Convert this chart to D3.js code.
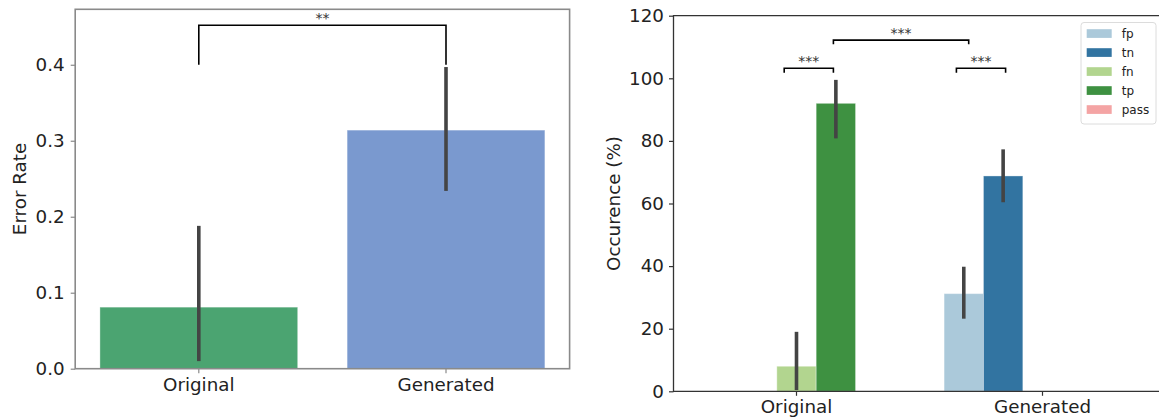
<!DOCTYPE html>
<html>
<head>
<meta charset="utf-8">
<script src="https://cdn.jsdelivr.net/npm/d3@7"></script>
<style>
  html, body { margin: 0; padding: 0; background: #fff; }
  svg { display: block; }
  text { font-family: "DejaVu Sans", sans-serif; }
</style>
</head>
<body>
<svg id="chart" width="1159" height="420"></svg>
<script>
// ---------- data ----------
const categories = ["Original", "Generated"];

// left panel: error rate
const errorRate = [0.081, 0.314];
const errorLow = [0.010, 0.234];
const errorHigh = [0.188, 0.397];
const leftColors = ["#4ba471", "#7a99cf"];
const leftTicks = [0.0, 0.1, 0.2, 0.3, 0.4];
const leftBracket = { from: "Original", to: "Generated", legLow: 0.4, top: 0.452, label: "**" };

// right panel: occurrence by outcome type
const hues = ["fp", "tn", "fn", "tp", "pass"];
const hueColors = ["#abc9da", "#3274a1", "#b2d58f", "#3e9141", "#f4a4a4"];
// values per hue: [Original, Generated]; null = no bar
const occFp = [null, 31.2];
const occTn = [null, 68.8];
const occFn = [8.0, null];
const occTp = [92.0, null];
const occPass = [null, null];
const ciFp = [null, [23.2, 39.8]];
const ciTn = [null, [60.4, 77.3]];
const ciFn = [[0.4, 19.0], null];
const ciTp = [[80.8, 99.5], null];
const ciPass = [null, null];
const rightTicks = [0, 20, 40, 60, 80, 100, 120];
// brackets: category index + offset (in category units), leg bottom, height
const rightBrackets = [
  { c1: 0, o1: -0.05, c2: 0, o2: 0.15, y: 101.8, h: 1.4, label: "***" },
  { c1: 1, o1: -0.35, c2: 1, o2: -0.15, y: 101.8, h: 1.4, label: "***" },
  { c1: 0, o1: 0.15, c2: 1, o2: -0.30, y: 110.9, h: 1.3, label: "***" }
];

const occValues = [occFp, occTn, occFn, occTp, occPass];
const occCI = [ciFp, ciTn, ciFn, ciTp, ciPass];

// ---------- drawing ----------
const svg = d3.select("#chart");
const tickFont = "18.3px";
const textColor = "#222";

// ===== Left panel =====
const L = { left: 75.2, right: 569.6, top: 9.3, bottom: 368.7 };
const xL = d3.scaleBand(categories, [L.left, L.right]).paddingInner(0.2).paddingOuter(0.1);
const yL = d3.scaleLinear([0, 0.473], [L.bottom, L.top]);
const gL = svg.append("g");

gL.selectAll("rect.bar").data(categories).join("rect")
  .attr("x", d => xL(d)).attr("width", xL.bandwidth())
  .attr("y", (d, i) => yL(errorRate[i]))
  .attr("height", (d, i) => yL(0) - yL(errorRate[i]))
  .attr("fill", (d, i) => leftColors[i])
  .attr("stroke", "rgba(255,255,255,0.35)").attr("stroke-width", 1);

gL.selectAll("line.err").data(categories).join("line")
  .attr("x1", d => xL(d) + xL.bandwidth() / 2).attr("x2", d => xL(d) + xL.bandwidth() / 2)
  .attr("y1", (d, i) => yL(errorLow[i])).attr("y2", (d, i) => yL(errorHigh[i]))
  .attr("stroke", "#444").attr("stroke-width", 3.6);

// frame
gL.append("rect").attr("x", L.left).attr("y", L.top)
  .attr("width", L.right - L.left).attr("height", L.bottom - L.top)
  .attr("fill", "none").attr("stroke", "#8a8a8a").attr("stroke-width", 1.6);

const axLy = gL.append("g").attr("transform", `translate(${L.left},0)`)
  .call(d3.axisLeft(yL).tickValues(leftTicks).tickFormat(d3.format(".1f")).tickSize(4.5).tickPadding(6));
const axLx = gL.append("g").attr("transform", `translate(0,${L.bottom})`)
  .call(d3.axisBottom(xL).tickSize(4.5).tickPadding(5));
[axLy, axLx].forEach(a => {
  a.select(".domain").remove();
  a.selectAll(".tick line").attr("stroke", "#8a8a8a").attr("stroke-width", 1.2);
  a.selectAll(".tick text").attr("font-size", tickFont).attr("fill", textColor)
    .attr("font-family", "DejaVu Sans");
});

gL.append("text").attr("transform", `translate(26,${(L.top + L.bottom) / 2}) rotate(-90)`)
  .attr("text-anchor", "middle").attr("font-size", tickFont).attr("fill", textColor)
  .text("Error Rate");

// bracket
{
  const x1 = xL(leftBracket.from) + xL.bandwidth() / 2;
  const x2 = xL(leftBracket.to) + xL.bandwidth() / 2;
  gL.append("path")
    .attr("d", d3.line()([[x1, yL(leftBracket.legLow)], [x1, yL(leftBracket.top)], [x2, yL(leftBracket.top)], [x2, yL(leftBracket.legLow)]]))
    .attr("fill", "none").attr("stroke", "#000").attr("stroke-width", 1.6);
  gL.append("text").attr("x", (x1 + x2) / 2).attr("y", yL(leftBracket.top) - 2)
    .attr("text-anchor", "middle").attr("font-size", "14px").attr("fill", "#333")
    .text(leftBracket.label);
}

// ===== Right panel =====
const R = { left: 673.5, right: 1165.5, top: 15.7, bottom: 391.3 };
const xR = d3.scaleBand(categories, [R.left, R.right]);
const xHue = d3.scaleBand(hues, [0, xR.bandwidth() * 0.8]);
const yR = d3.scaleLinear([0, 120], [R.bottom, R.top]);
const gR = svg.append("g");
const catCenter = (c, o) => xR(categories[c]) + xR.bandwidth() / 2 + o * xR.step();

const barData = [];
hues.forEach((h, hi) => categories.forEach((c, ci) => {
  if (occValues[hi][ci] != null) barData.push({ h, hi, c, v: occValues[hi][ci], ci: occCI[hi][ci] });
}));
const barX = d => xR(d.c) + xR.bandwidth() * 0.1 + xHue(d.h);

gR.selectAll("rect.bar").data(barData).join("rect")
  .attr("x", barX).attr("width", xHue.bandwidth())
  .attr("y", d => yR(d.v)).attr("height", d => yR(0) - yR(d.v))
  .attr("fill", d => hueColors[d.hi])
  .attr("stroke", "rgba(255,255,255,0.35)").attr("stroke-width", 1);

gR.selectAll("line.err").data(barData.filter(d => d.ci)).join("line")
  .attr("x1", d => barX(d) + xHue.bandwidth() / 2).attr("x2", d => barX(d) + xHue.bandwidth() / 2)
  .attr("y1", d => yR(d.ci[0])).attr("y2", d => yR(d.ci[1]))
  .attr("stroke", "#444").attr("stroke-width", 3.6);

// spines: left, top, bottom (right spine lies beyond the picture)
gR.append("path")
  .attr("d", d3.line()([[1159, R.top], [R.left, R.top], [R.left, R.bottom], [1159, R.bottom]]))
  .attr("fill", "none").attr("stroke", "#333").attr("stroke-width", 1.3);

const axRy = gR.append("g").attr("transform", `translate(${R.left},0)`)
  .call(d3.axisLeft(yR).tickValues(rightTicks).tickFormat(d3.format("d")).tickSize(4.5).tickPadding(5));
const axRx = gR.append("g").attr("transform", `translate(0,${R.bottom})`)
  .call(d3.axisBottom(xR).tickSize(4.5).tickPadding(4.5));
[axRy, axRx].forEach(a => {
  a.select(".domain").remove();
  a.selectAll(".tick line").attr("stroke", "#333").attr("stroke-width", 1.2);
  a.selectAll(".tick text").attr("font-size", tickFont).attr("fill", textColor)
    .attr("font-family", "DejaVu Sans");
});

gR.append("text").attr("transform", `translate(620,${(R.top + R.bottom) / 2}) rotate(-90)`)
  .attr("text-anchor", "middle").attr("font-size", tickFont).attr("fill", textColor)
  .text("Occurence (%)");

// brackets
rightBrackets.forEach(b => {
  const x1 = catCenter(b.c1, b.o1), x2 = catCenter(b.c2, b.o2);
  gR.append("path")
    .attr("d", d3.line()([[x1, yR(b.y)], [x1, yR(b.y + b.h)], [x2, yR(b.y + b.h)], [x2, yR(b.y)]]))
    .attr("fill", "none").attr("stroke", "#000").attr("stroke-width", 1.6);
  gR.append("text").attr("x", (x1 + x2) / 2).attr("y", yR(b.y + b.h) - 2)
    .attr("text-anchor", "middle").attr("font-size", "14px").attr("fill", "#333")
    .text(b.label);
});

// legend
const lg = gR.append("g").attr("transform", "translate(1081,22.5)");
lg.append("rect").attr("width", 75).attr("height", 101.5).attr("rx", 3)
  .attr("fill", "rgba(255,255,255,0.85)").attr("stroke", "#dcdcdc").attr("stroke-width", 1);
const rows = lg.selectAll("g.row").data(hues).join("g")
  .attr("transform", (d, i) => `translate(0,${11 + i * 19})`);
rows.append("rect").attr("x", 5.7).attr("y", -4.3).attr("width", 25).attr("height", 8.7)
  .attr("fill", (d, i) => hueColors[i]);
rows.append("text").attr("x", 40.7).attr("y", 4.3).attr("font-size", "12px").attr("fill", textColor)
  .text(d => d);
</script>
</body>
</html>
